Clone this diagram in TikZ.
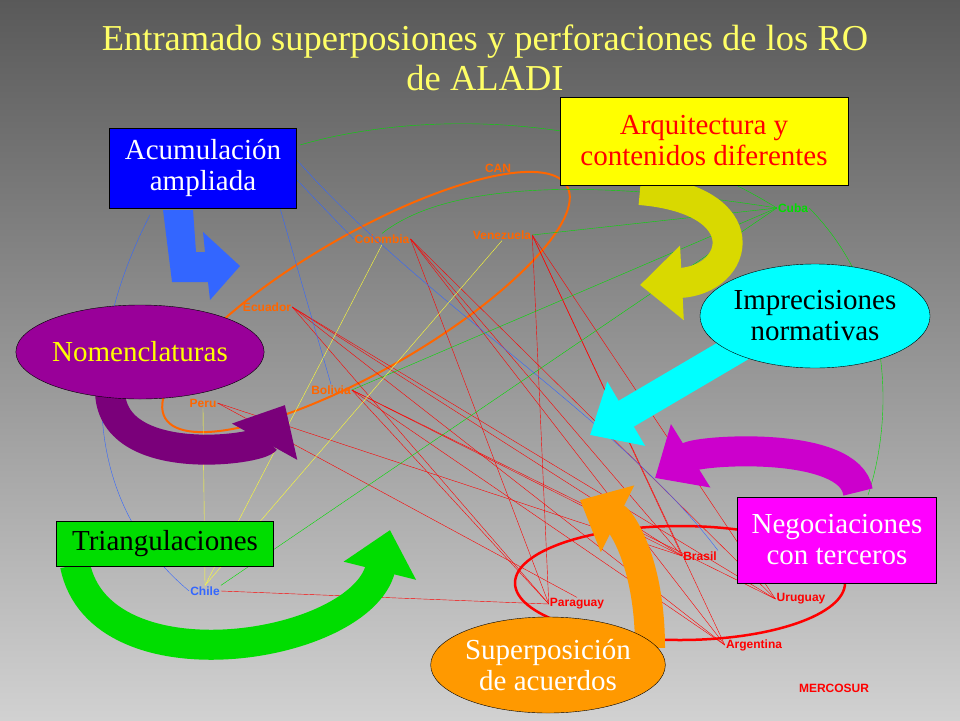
\documentclass[tikz,border=0pt]{standalone}
\usepackage{fontspec}
\setmainfont{Liberation Serif}
\newfontfamily\labfont{Liberation Sans}
\usetikzlibrary{arrows.meta}
\usetikzlibrary{shapes.geometric}
\definecolor{ttl}{HTML}{FFFF66}
\definecolor{cano}{HTML}{FF6600}
\definecolor{ared}{HTML}{FF0000}
\definecolor{agrn}{HTML}{00DD00}
\definecolor{ablu}{HTML}{3366FF}
\definecolor{ayel}{HTML}{FFFF33}
\definecolor{fcyan}{HTML}{00FFFF}
\definecolor{fmag}{HTML}{FF00FF}
\definecolor{fyel}{HTML}{FFFF00}
\definecolor{fpur}{HTML}{990099}
\definecolor{fblu}{HTML}{0000FF}
\definecolor{forg}{HTML}{FF9900}
\tikzset{
    country/.style = {font=\labfont\bfseries\fontsize{12}{14}\selectfont, inner sep=1pt},
    box/.style = {draw=black, thin, align=center, inner sep=2pt, font=\fontsize{29}{31}\selectfont},
    oval/.style = {ellipse, draw=black, thin, align=center, inner sep=0pt, font=\fontsize{29}{31}\selectfont},
    rline/.style = {ared, thin},
    gline/.style = {agrn, thin},
    bline/.style = {ablu, thin},
    yline/.style = {ayel, thin},
    bigarrow/.style = {line width=30pt, -{Triangle[length=42pt,width=72pt]}}
}
\begin{document}
\begin{tikzpicture}[x=1pt,y=-1pt]
    \shade[top color=black!65, bottom color=black!18] (0,0) rectangle (960,720);
    \useasboundingbox (0,0) rectangle (960,720);

    % title
    \node[ttl, align=center, font=\fontsize{36.5}{40}\selectfont] (title) at (485,58)
        {Entramado superposiones y perforaciones de los RO\\de ALADI};

    % groups
    \draw[cano, line width=2pt, rotate around={30:(366,302)}] (366,302) ellipse [x radius=232, y radius=68];
    \draw[ared, line width=2.5pt] (680,583) ellipse [x radius=165, y radius=57];

    % countries
    \node[country, cano] (can) at (498,168) {CAN};
    \node[country, cano] (col) at (382,239) {Colombia};
    \node[country, cano] (ven) at (502,235) {Venezuela};
    \node[country, cano] (ecu) at (267,307) {Ecuador};
    \node[country, cano] (bol) at (331,390) {Bolivia};
    \node[country, cano] (per) at (203,403) {Peru};
    \node[country, ablu] (chi) at (205,591) {Chile};
    \node[country, agrn] (cub) at (793,208) {Cuba};
    \node[country, ared] (bra) at (700,556) {Brasil};
    \node[country, ared] (par) at (577,604) {Paraguay};
    \node[country, ared] (uru) at (801,599) {Uruguay};
    \node[country, ared] (arg) at (754,645) {Argentina};
    \node[country, ared] (mer) at (834,688) {MERCOSUR};

    % red connectors
    \foreach \a in {ven, col, ecu, bol} {
        \foreach \b in {bra, par, uru, arg} {
            \draw[rline] (\a.east) -- (\b.west);
        }
    }
    \draw[rline] (per.east) -- (par.north);
    \draw[rline] (per.east) -- (bra.west);
    \draw[rline] (chi.east) -- (par.west);

    % green connectors
    \draw[gline] (cub.west) .. controls (620,110) and (420,110) .. (300,145);
    \draw[gline] (cub.west) .. controls (600,180) and (450,180) .. (col.north);
    \draw[gline] (cub.west) -- (ven.east);
    \draw[gline] (cub.west) -- (bol.east);
    \draw[gline] (cub.west) -- (chi.north east);
    \draw[gline] (cub.east) .. controls (900,300) and (890,430) .. (868,495);

    % blue connectors
    \draw[bline] (297,180) -- (col.west);
    \draw[bline] (280,208) -- (bol.north);
    \draw[bline] (297,160) .. controls (420,300) and (620,420) .. (bra.north east);
    \draw[bline] (chi.west) .. controls (80,500) and (80,350) .. (150,215);

    % yellow connectors
    \draw[yline] (per.south) -- (chi.north);
    \draw[yline] (chi.north) -- (col.south);
    \draw[yline] (chi.north) -- (ven.south);

    % big arrows
    \fill[ablu] (163,210) -- (193,210) -- (196,252) -- (205,252) -- (203,232) -- (240,266)
        -- (210,300) -- (208,282) -- (172,282) -- cycle;
    \draw[bigarrow, fyel!85!black] (640,190) .. controls (760,200) and (740,280) .. (640,285);
    \draw[bigarrow, fcyan] (760,335) -- (590,435);
    \draw[bigarrow, fpur!80!black] (110,390) .. controls (110,470) and (260,450) .. (285,405);
    \draw[bigarrow, agrn] (75,565) .. controls (100,690) and (360,650) .. (390,530);
    \draw[bigarrow, fmag!80!black] (858,492) .. controls (850,440) and (700,450) .. (655,478);
    \draw[bigarrow, forg] (650,648) .. controls (650,560) and (620,520) .. (580,500);

    % statements
    \node[box, fill=fblu, text=white, minimum width=187pt, minimum height=80pt] (acu) at (203,168)
        {Acumulación\\ampliada};
    \node[box, fill=fyel, text=ared, minimum width=288pt, minimum height=88pt] (arq) at (704,141)
        {Arquitectura y\\contenidos diferentes};
    \node[oval, fill=fcyan, text=black, minimum width=220pt, minimum height=104pt] (imp) at (815,316)
        {Imprecisiones\\normativas};
    \node[oval, fill=fpur, text=fyel, minimum width=214pt, minimum height=94pt] (nom) at (140,352)
        {Nomenclaturas};
    \node[box, fill=agrn, text=black, minimum width=217pt, minimum height=45pt] (tri) at (165,544)
        {Triangulaciones};
    \node[box, fill=fmag, text=white, minimum width=199pt, minimum height=86pt] (neg) at (837,540)
        {Negociaciones\\con terceros};
    \node[oval, fill=forg, text=white, minimum width=206pt, minimum height=96pt] (sup) at (548,665)
        {Superposición\\de acuerdos};
\end{tikzpicture}
\end{document}
